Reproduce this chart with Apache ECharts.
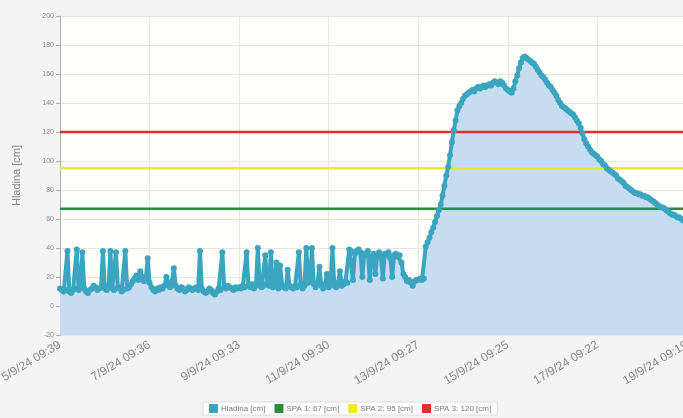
<!DOCTYPE html>
<html>
<head>
<meta charset="utf-8">
<script src="https://cdn.jsdelivr.net/npm/echarts@6/dist/echarts.min.js"></script>
<style>
    html,body{margin:0;padding:0;background:#f4f4f4;}
    #main{width:683px;height:418px;}
</style>
</head>
<body>
<div id="main"></div>
<script>
// popisky casove osy (kazde 2 dny)
var timeLabels = ["5/9/24 09:39","7/9/24 09:36","9/9/24 09:33","11/9/24 09:30","13/9/24 09:27","15/9/24 09:25","17/9/24 09:22","19/9/24 09:19"];
var pointsPerLabel = 48;

// hladina [cm], jedna hodnota za hodinu
var hladina = [
    12,11,10,11,38,10,9,11,12,39,11,13,37,12,10,9,11,12,14,13,11,12,13,38,
    12,11,13,38,12,11,37,13,12,10,11,38,12,13,15,17,19,21,18,24,20,17,19,33,
    16,13,11,10,12,11,13,12,14,20,15,13,17,26,14,12,11,13,12,10,11,13,12,11,
    12,13,11,38,12,10,9,10,12,11,9,8,10,12,11,37,13,12,14,13,12,11,13,12,
    13,12,14,13,37,14,13,15,12,14,40,15,13,14,35,16,14,37,13,15,30,12,28,14,
    13,12,25,14,13,12,14,13,37,15,12,14,40,16,18,40,15,13,16,27,14,12,15,22,
    13,15,40,14,13,16,24,14,15,17,16,39,38,18,36,38,39,37,20,36,35,38,18,34,
    36,22,35,37,34,19,36,35,37,33,20,35,36,34,35,30,22,20,17,18,16,14,17,18,
    18,19,18,19,41,44,47,51,54,58,62,66,70,76,83,90,96,104,113,121,128,135,138,140,
    143,145,146,147,148,149,148,150,151,150,151,152,151,152,153,152,154,155,154,153,155,154,152,150,
    149,148,147,150,155,159,164,168,171,172,171,170,169,168,167,165,163,161,159,158,156,154,152,151,
    149,147,145,142,140,138,137,136,135,134,133,132,130,128,126,123,119,115,112,110,108,106,105,104,
    103,101,100,98,97,95,94,93,92,91,90,88,87,86,85,83,82,81,80,79,78,78,77,77,
    76,76,75,75,74,73,72,71,70,69,68,68,67,66,65,64,63,63,62,61,61,60,59,59,
    58
];

// stupne povodnove aktivity
var spaNames = ["SPA 1: 67 [cm]","SPA 2: 95 [cm]","SPA 3: 120 [cm]"];
var spaValues = [67,95,120];
var spaColors = ["#2b8a3e","#f0e62e","#e0302c"];

var yTicks = {min:-20,max:200,step:20};

var main = document.getElementById("main");
var mychart = echarts.init(main);

var lastIdx = (timeLabels.length - 1) * pointsPerLabel;
var lineData = hladina.map(function(v,i){ return [i,v]; });

var series = [];
// vypln pod krivkou
series.push({
    type:"line",
    data:lineData,
    symbol:"none",
    lineStyle:{width:0},
    areaStyle:{color:"#c6dcf1",opacity:1,origin:"start"},
    silent:true,
    z:1
});
for(var i = 0;i < spaValues.length;i++){
    series.push({
        name:spaNames[i],
        type:"line",
        data:[[0,spaValues[i]],[lastIdx,spaValues[i]]],
        symbol:"none",
        color:spaColors[i],
        lineStyle:{width:2.5,color:spaColors[i]},
        z:2
    });
}
series.push({
    name:"Hladina [cm]",
    type:"line",
    data:lineData,
    color:"#3ba5bf",
    symbol:"circle",
    symbolSize:6,
    showAllSymbol:true,
    lineStyle:{width:4,color:"#3ba5bf"},
    itemStyle:{color:"#3ba5bf"},
    z:3
});

var option = {
    animation:false,
    backgroundColor:"#f4f4f4",
    textStyle:{fontFamily:"Liberation Sans"},
    grid:{left:60,right:-4,top:16,bottom:83,show:true,backgroundColor:"#fefefb",borderWidth:0,outerBoundsMode:"none"},
    legend:{
        data:["Hladina [cm]"].concat(spaNames),
        left:203,
        bottom:3,
        icon:"rect",
        itemWidth:9,
        itemHeight:9,
        itemGap:9,
        padding:[2,6],
        backgroundColor:"#ffffff",
        borderColor:"#dddddd",
        borderWidth:1,
        borderRadius:0,
        textStyle:{fontSize:8,color:"#777",padding:[0,0,0,-2]}
    },
    xAxis:{
        type:"value",
        min:0,
        max:lastIdx,
        interval:pointsPerLabel,
        axisLine:{show:true,lineStyle:{color:"#999"}},
        axisTick:{show:false},
        splitLine:{show:true,lineStyle:{color:"#e6e6e0"}},
        axisLabel:{
            rotate:31,
            fontSize:12,
            color:"#888",
            margin:9,
            formatter:function(v){ return timeLabels[Math.round(v / pointsPerLabel)] || ""; }
        }
    },
    yAxis:{
        type:"value",
        min:yTicks.min,
        max:yTicks.max,
        interval:yTicks.step,
        name:"Hladina [cm]",
        nameLocation:"middle",
        nameGap:38,
        nameTextStyle:{fontSize:11,color:"#888"},
        axisLine:{show:true,lineStyle:{color:"#aaa"}},
        axisTick:{show:true,length:4,lineStyle:{color:"#aaa"}},
        splitLine:{show:true,lineStyle:{color:"#e6e6e0"}},
        axisLabel:{fontSize:7,color:"#888",margin:6}
    },
    series:series
};
mychart.setOption(option);
</script>
</body>
</html>
